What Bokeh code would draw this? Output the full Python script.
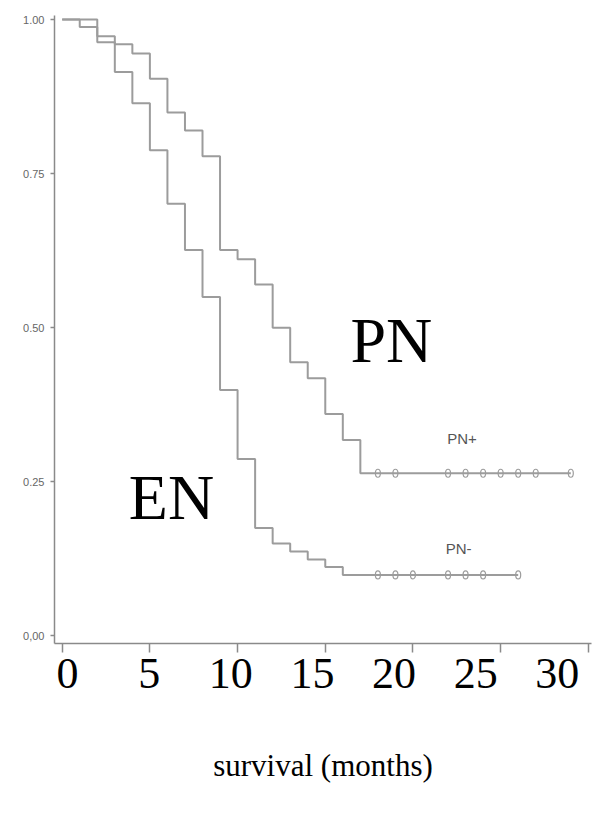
from bokeh.plotting import figure
from bokeh.models import Range1d, LinearAxis, FixedTicker
from bokeh.embed import file_html
from bokeh.resources import INLINE
from bokeh.core.properties import value

# ---- data ----
months_pn_plus = [0, 2, 3, 4, 5, 6, 7, 8, 9, 10, 11, 12, 13, 14, 15, 16, 17, 29]
surv_pn_plus = [1.00, 0.973, 0.960, 0.945, 0.904, 0.849, 0.820, 0.778, 0.626, 0.611,
                0.570, 0.500, 0.444, 0.418, 0.360, 0.318, 0.264, 0.264]
censor_pn_plus = [18, 19, 22, 23, 24, 25, 26, 27, 29]

months_pn_minus = [0, 1, 2, 3, 4, 5, 6, 7, 8, 9, 10, 11, 12, 13, 14, 15, 16, 26]
surv_pn_minus = [1.00, 0.988, 0.963, 0.915, 0.864, 0.788, 0.701, 0.626, 0.550, 0.399,
                 0.287, 0.175, 0.150, 0.137, 0.124, 0.112, 0.099, 0.099]
censor_pn_minus = [18, 19, 20, 22, 23, 24, 26]

x_ticks = [0, 5, 10, 15, 20, 25, 30]
y_ticks = [0.0, 0.25, 0.5, 0.75, 1.0]
y_tick_labels = {0.0: "0,00", 0.25: "0.25", 0.5: "0.50", 0.75: "0.75", 1.0: "1.00"}
x_title = "survival (months)"

LINE = "#9c9c9c"
AXIS = "#8a8a8a"

p = figure(frame_width=537, frame_height=628,
           min_border_left=54, min_border_top=15, min_border_right=8, min_border_bottom=156,
           x_range=Range1d(-0.439, 30.18), y_range=Range1d(-0.0122, 1.0065),
           output_backend="svg", toolbar_location=None)
p.outline_line_color = None
p.xgrid.visible = False
p.ygrid.visible = False

# step curves
p.step(months_pn_plus, surv_pn_plus, mode="after", line_color=LINE, line_width=2)
p.step(months_pn_minus, surv_pn_minus, mode="after", line_color=LINE, line_width=2)

# censor marks
p.ellipse(x=censor_pn_plus, y=[surv_pn_plus[-1]] * len(censor_pn_plus),
          width=5, height=8, width_units="screen", height_units="screen",
          fill_color=None, line_color=LINE, line_width=1.2)
p.ellipse(x=censor_pn_minus, y=[surv_pn_minus[-1]] * len(censor_pn_minus),
          width=5, height=8, width_units="screen", height_units="screen",
          fill_color=None, line_color=LINE, line_width=1.2)

# labels
p.text(x=[18.77], y=[0.479], text=["PN"], text_font=value("Liberation Serif"),
       text_font_size="64px", text_align="center", text_baseline="alphabetic", text_color="black")
p.text(x=[6.23], y=[0.2246], text=["EN"], text_font=value("Liberation Serif"),
       text_font_size="64px", text_align="center", text_baseline="alphabetic", text_color="black")
p.text(x=[22.8], y=[0.321], text=["PN+"], text_font=value("Liberation Sans"),
       text_font_size="15px", text_align="center", text_baseline="alphabetic", text_color="#555555")
p.text(x=[22.6], y=[0.142], text=["PN-"], text_font=value("Liberation Sans"),
       text_font_size="15px", text_align="center", text_baseline="alphabetic", text_color="#555555")

# y axis
ya = p.yaxis[0]
ya.ticker = FixedTicker(ticks=y_ticks)
ya.major_label_overrides = y_tick_labels
ya.axis_line_color = AXIS
ya.axis_line_width = 1.5
ya.major_tick_line_color = AXIS
ya.major_tick_line_width = 1.5
ya.major_tick_in = 0
ya.major_tick_out = 4
ya.minor_tick_line_color = None
ya.major_label_text_font = "Liberation Sans"
ya.major_label_text_font_size = "11px"
ya.major_label_text_color = "#666666"
ya.major_label_standoff = 6

# x axis (small ticks)
xa = p.xaxis[0]
xa.ticker = FixedTicker(ticks=x_ticks)
xa.axis_line_color = AXIS
xa.axis_line_width = 1.5
xa.major_tick_line_color = AXIS
xa.major_tick_line_width = 1.5
xa.major_tick_in = 0
xa.major_tick_out = 9
xa.minor_tick_line_color = None
xa.major_label_text_color = None
xa.major_label_text_font_size = "1px"
xa.major_label_standoff = 0

# big overlaid month labels
p.extra_x_ranges = {"big": Range1d(-0.796, 32.09)}
big = LinearAxis(x_range_name="big", ticker=FixedTicker(ticks=x_ticks))
big.axis_line_color = None
big.major_tick_line_color = None
big.minor_tick_line_color = None
big.major_label_text_font = "Liberation Serif"
big.major_label_text_font_size = "44px"
big.major_label_text_color = "black"
big.major_label_standoff = 0
big.axis_label = x_title
big.axis_label_text_font = "Liberation Serif"
big.axis_label_text_font_size = "31px"
big.axis_label_text_font_style = "normal"
big.axis_label_text_color = "black"
big.axis_label_standoff = 57
p.add_layout(big, "below")

open("out.html", "w").write(file_html(p, INLINE))
